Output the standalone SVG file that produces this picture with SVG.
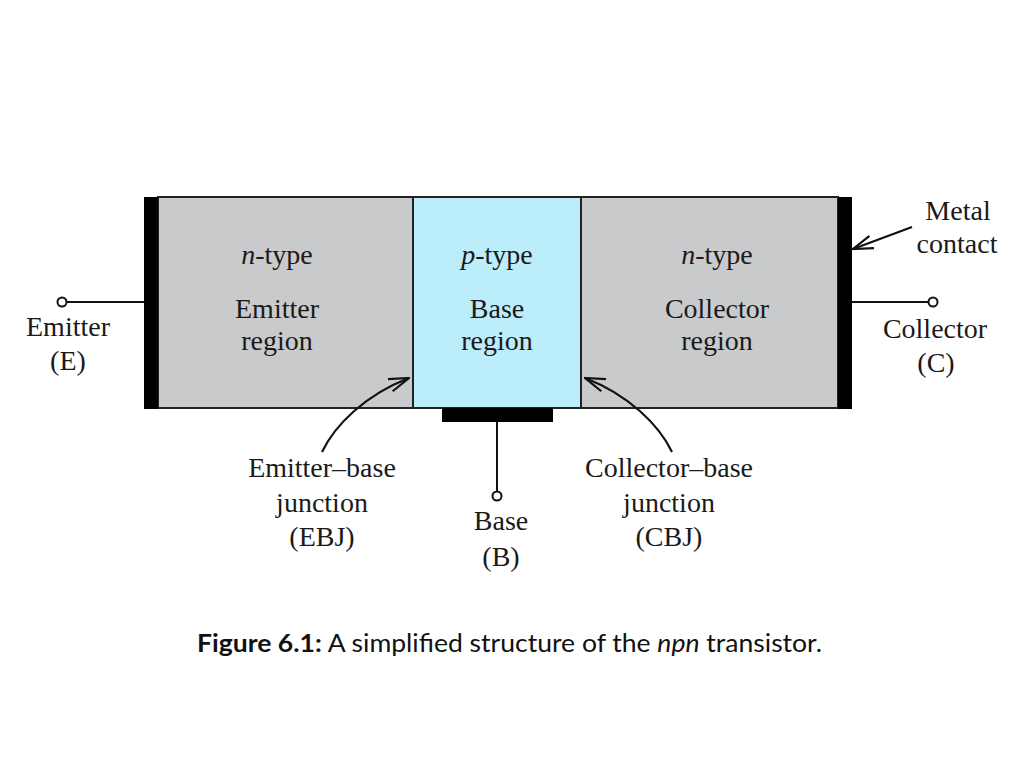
<svg xmlns="http://www.w3.org/2000/svg" width="1024" height="768" viewBox="0 0 1024 768">
  <style>
    .t { font-family: "Liberation Serif", "Times New Roman", serif; font-size: 28px; fill: #1a1a1a; text-anchor: middle; }
    .i { font-style: italic; }
    .wire { stroke: #111; stroke-width: 2; fill: none; }
    .term { stroke: #111; stroke-width: 2; fill: #fff; }
    .arr { stroke: #111; stroke-width: 2.2; fill: none; marker-end: url(#barb); }
    .cap { font-family: Lato, "Liberation Sans", sans-serif; font-size: 25px; fill: #111; }
  </style>
  <defs>
    <marker id="barb" viewBox="0 0 22 16" refX="21" refY="8" markerWidth="22" markerHeight="16" markerUnits="userSpaceOnUse" orient="auto">
      <path d="M1,1.5 L21,8 L1,14.5" fill="none" stroke="#111" stroke-width="2.2"/>
    </marker>
  </defs>
  <rect width="1024" height="768" fill="#fff"/>

  <g id="emitter-region">
    <rect x="158" y="197" width="255" height="211" fill="#c9cacc" stroke="#222" stroke-width="2"/>
    <text class="t" x="277" y="264"><tspan class="i">n</tspan>-type</text>
    <text class="t" x="277" y="318">Emitter</text>
    <text class="t" x="277" y="350">region</text>
  </g>
  <g id="base-region">
    <rect x="413" y="197" width="168" height="211" fill="#bcedfb" stroke="#222" stroke-width="2"/>
    <text class="t" x="497" y="264"><tspan class="i">p</tspan>-type</text>
    <text class="t" x="497" y="318">Base</text>
    <text class="t" x="497" y="350">region</text>
  </g>
  <g id="collector-region">
    <rect x="581" y="197" width="257" height="211" fill="#c9cacc" stroke="#222" stroke-width="2"/>
    <text class="t" x="717" y="264"><tspan class="i">n</tspan>-type</text>
    <text class="t" x="717" y="318">Collector</text>
    <text class="t" x="717" y="350">region</text>
  </g>

  <g id="emitter-contact"><rect x="144" y="197" width="14" height="212" fill="#000"/></g>
  <g id="collector-contact"><rect x="838" y="197" width="14" height="212" fill="#000"/></g>
  <g id="base-contact"><rect x="442" y="408" width="111" height="14" fill="#000"/></g>

  <g id="connectors">
    <line class="wire" x1="144" y1="302" x2="66.5" y2="302"/>
    <line class="wire" x1="852" y1="302" x2="928.5" y2="302"/>
    <line class="wire" x1="497" y1="422" x2="497" y2="491.5"/>
    <path class="arr" d="M322,452 C335,425 365,395 409,378"/>
    <path class="arr" d="M672,452 C659,425 629,395 585,378"/>
    <line class="arr" x1="912" y1="227" x2="853" y2="249"/>
  </g>

  <g id="emitter-terminal">
    <circle class="term" cx="62" cy="302" r="4.5"/>
    <text class="t" x="68" y="336">Emitter</text>
    <text class="t" x="68" y="370">(E)</text>
  </g>
  <g id="collector-terminal">
    <circle class="term" cx="933" cy="302" r="4.5"/>
    <text class="t" x="935" y="338">Collector</text>
    <text class="t" x="936" y="372">(C)</text>
  </g>
  <g id="base-terminal">
    <circle class="term" cx="497" cy="496" r="4.5"/>
    <text class="t" x="501" y="530">Base</text>
    <text class="t" x="501" y="566">(B)</text>
  </g>
  <g id="ebj-label">
    <text class="t" x="322" y="477">Emitter–base</text>
    <text class="t" x="322" y="512">junction</text>
    <text class="t" x="322" y="546">(EBJ)</text>
  </g>
  <g id="cbj-label">
    <text class="t" x="669" y="477">Collector–base</text>
    <text class="t" x="669" y="512">junction</text>
    <text class="t" x="669" y="546">(CBJ)</text>
  </g>
  <g id="metal-label">
    <text class="t" x="958" y="220">Metal</text>
    <text class="t" x="957" y="253">contact</text>
  </g>

  <text class="cap" x="197" y="652" textLength="625" lengthAdjust="spacingAndGlyphs"><tspan font-weight="bold">Figure 6.1:</tspan> A simplified structure of the <tspan font-style="italic">npn</tspan> transistor.</text>
</svg>
